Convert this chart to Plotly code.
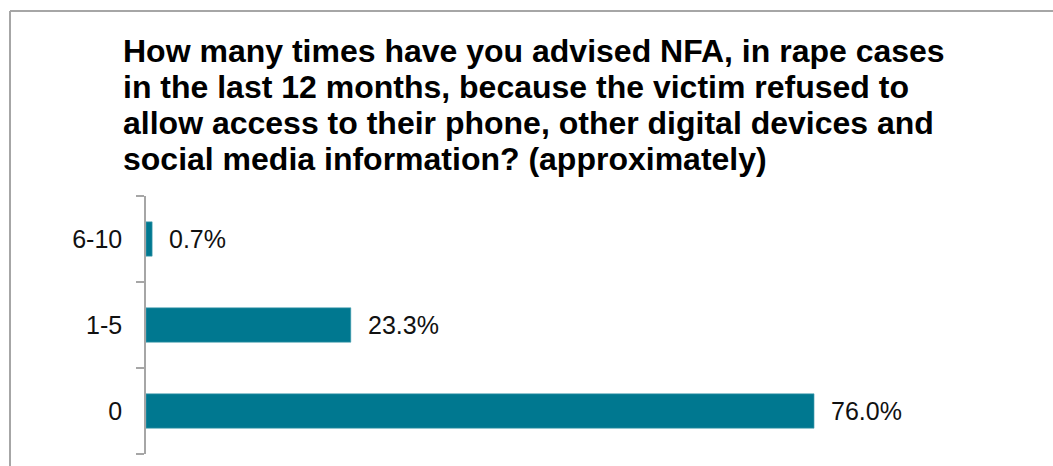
import plotly.graph_objects as go

# Survey responses (share of respondents, %)
categories = ["0", "1-5", "6-10"]
shares = [76.0, 23.3, 0.7]
value_labels = ["76.0%", "23.3%", "0.7%"]

title_lines = [
    "How many times have you advised NFA, in rape cases",
    "in the last 12 months, because the victim refused to",
    "allow access to their phone, other digital devices and",
    "social media information? (approximately)",
]

BAR_COLOR = "#007890"
AXIS_GRAY = "#a6a6a6"
FONT = "Liberation Sans, Arial, sans-serif"

W, H = 1053, 466
M_L, M_R, M_T, M_B = 146, 28, 196, 12
PLOT_W = W - M_L - M_R
PLOT_H = H - M_T - M_B


def px_to_paper_x(px):
    return (px - M_L) / PLOT_W


def px_to_paper_y(py):
    return (H - M_B - py) / PLOT_H


fig = go.Figure()
fig.add_trace(go.Bar(
    x=shares,
    y=categories,
    orientation="h",
    marker=dict(color=BAR_COLOR, line=dict(color="#4fa3b3", width=0.6)),
    hoverinfo="skip",
))

# Value labels placed just past the end of each bar
for cat, val, lab in zip(categories, shares, value_labels):
    fig.add_annotation(
        x=val, y=cat, xref="x", yref="y",
        text=lab, showarrow=False,
        xanchor="left", yanchor="middle", xshift=15,
        font=dict(family=FONT, size=25, color="#111111"),
    )

# Bold multi-line heading, one annotation per line for tight leading
TITLE_SIZE = 32
LINE_STEP = 36
for i, line in enumerate(title_lines):
    fig.add_annotation(
        text=line, showarrow=False,
        xref="paper", yref="paper",
        x=px_to_paper_x(121), xanchor="left",
        y=px_to_paper_y(51 + i * LINE_STEP), yanchor="middle",
        font=dict(family=FONT, size=TITLE_SIZE, color="#000000", weight="bold"),
    )

# Frame lines along the top and left of the chart area
fig.add_shape(type="line", xref="paper", yref="paper",
              x0=px_to_paper_x(10), x1=px_to_paper_x(W + 10),
              y0=px_to_paper_y(11), y1=px_to_paper_y(11),
              line=dict(color=AXIS_GRAY, width=2))
fig.add_shape(type="line", xref="paper", yref="paper",
              x0=px_to_paper_x(10), x1=px_to_paper_x(10),
              y0=px_to_paper_y(11), y1=px_to_paper_y(H + 10),
              line=dict(color=AXIS_GRAY, width=2))

fig.update_layout(
    width=W, height=H,
    margin=dict(l=M_L, r=M_R, t=M_T, b=M_B),
    paper_bgcolor="white", plot_bgcolor="white",
    showlegend=False,
    bargap=0.6,
    xaxis=dict(range=[0, 100], visible=False, fixedrange=True),
    yaxis=dict(
        categoryorder="array", categoryarray=categories,
        showline=True, linecolor=AXIS_GRAY, linewidth=1.5,
        ticks="outside", tickson="boundaries", ticklen=8,
        tickcolor=AXIS_GRAY, tickwidth=1.5,
        ticklabelstandoff=17,
        tickfont=dict(family=FONT, size=25, color="#111111"),
        showgrid=False, zeroline=False, fixedrange=True,
    ),
)

fig.write_html("out.html")
